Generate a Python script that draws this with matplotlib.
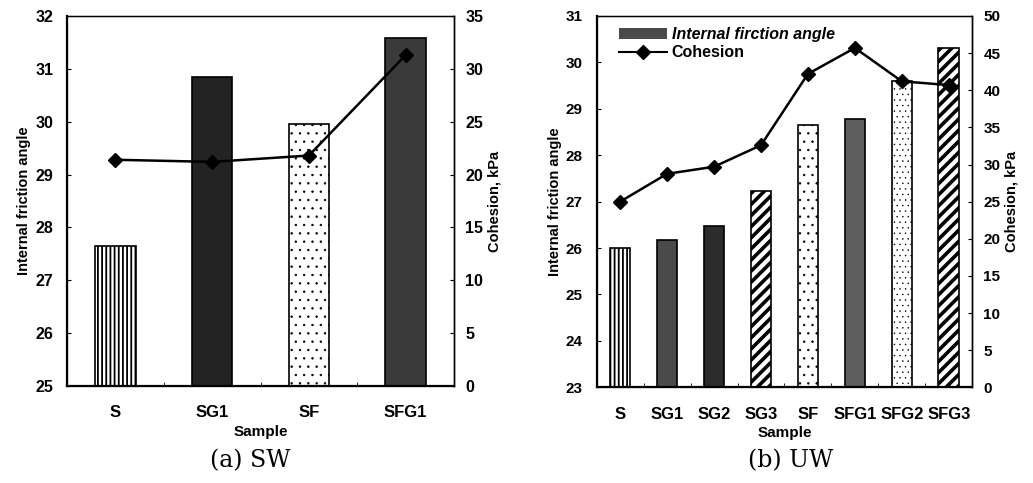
import numpy as np
import matplotlib
matplotlib.use("Agg")
import matplotlib.pyplot as plt
from matplotlib.patches import Patch
from matplotlib.lines import Line2D

plt.rcParams['font.family'] = ['Liberation Sans', 'DejaVu Sans']
plt.rcParams['hatch.linewidth'] = 1.3

# ---- data ----
samples_a = ['S', 'SG1', 'SF', 'SFG1']
phi_a = [27.64, 30.84, 29.96, 31.58]
coh_a = [21.4, 21.2, 21.8, 31.3]

samples_b = ['S', 'SG1', 'SG2', 'SG3', 'SF', 'SFG1', 'SFG2', 'SFG3']
phi_b = [26.0, 26.17, 26.48, 27.24, 28.65, 28.78, 29.6, 30.32]
coh_b = [25.0, 28.75, 29.7, 32.6, 42.2, 45.7, 41.2, 40.7]

# ---- styles ----
style = {
    'S':    dict(facecolor='white', hatch='||||', hlw=1.3),
    'SG1':  dict(facecolor='#4a4a4a', hatch=None, hlw=1.0),
    'SG2':  dict(facecolor='#2c2c2c', hatch=None, hlw=1.0),
    'SG3':  dict(facecolor='white', hatch='///', hlw=2.6),
    'SF':   dict(facecolor='white', hatch='..', hlw=0.5),
    'SFG1': dict(facecolor='#5e5e5e', hatch=None, hlw=1.0),
    'SFG2': dict(facecolor='white', hatch='...', hlw=0.3),
    'SFG3': dict(facecolor='white', hatch='///', hlw=2.6),
}
style_a = dict(style)
style_a['SG1'] = dict(facecolor='#232323', hatch=None, hlw=1.0)
style_a['SFG1'] = dict(facecolor='#3a3a3a', hatch=None, hlw=1.0)

fig = plt.figure(figsize=(10.33, 4.83), dpi=100)


def panel(rect, samples, phi, coh, sty, ylim1, yticks1, ylim2, yticks2,
          width, xfs, yfs, caption, cap_x, legend=False):
    ax = fig.add_axes(rect)
    x = np.arange(len(samples))
    for xi, s, v in zip(x, samples, phi):
        st = sty[s]
        bars = ax.bar(xi, v - ylim1[0], bottom=ylim1[0], width=width,
                      facecolor=st['facecolor'], edgecolor='black',
                      linewidth=1.2, hatch=st['hatch'], zorder=2)
        for p in bars:
            if hasattr(p, 'set_hatch_linewidth'):
                p.set_hatch_linewidth(st['hlw'])
    ax.set_xlim(-0.5, len(samples) - 0.5)
    ax.set_ylim(*ylim1)
    ax.set_yticks(yticks1)
    ax.set_xticks(x)
    ax.set_xticklabels(samples, fontsize=xfs, fontweight='bold')
    ax.set_xticks(np.arange(len(samples) + 1) - 0.5, minor=True)
    ax.tick_params(axis='x', which='major', length=0, pad=14)
    ax.tick_params(axis='x', which='minor', direction='in', length=3)
    ax.tick_params(axis='y', direction='in', length=3, pad=10,
                   labelsize=yfs)
    for lab in ax.get_yticklabels():
        lab.set_fontweight('bold')
    ax.set_ylabel('Internal friction angle', fontsize=10.5,
                  fontweight='bold', labelpad=3)
    ax.set_xlabel('Sample', fontsize=11, fontweight='bold', labelpad=3)
    for sp in ['left', 'bottom']:
        ax.spines[sp].set_linewidth(1.6)
    for sp in ['top', 'right']:
        ax.spines[sp].set_linewidth(1.0)

    ax2 = ax.twinx()
    ax2.plot(x, coh, color='black', linewidth=1.8, marker='D',
             markersize=7, markerfacecolor='black',
             markeredgecolor='black', zorder=3)
    ax2.set_ylim(*ylim2)
    ax2.set_yticks(yticks2)
    ax2.tick_params(axis='y', direction='in', length=3, pad=8,
                    labelsize=yfs)
    for lab in ax2.get_yticklabels():
        lab.set_fontweight('bold')
    ax2.set_ylabel('Cohesion, kPa', fontsize=10.5, fontweight='bold',
                   labelpad=3)
    ax2.spines['right'].set_linewidth(1.0)

    if legend:
        handles = [Patch(facecolor='#4a4a4a', edgecolor='none'),
                   Line2D([0], [0], color='black', linewidth=1.5,
                          marker='D', markersize=7)]
        leg = ax2.legend(handles, ['Internal firction angle', 'Cohesion'],
                         loc='upper left', bbox_to_anchor=(0.03, 1.0),
                         frameon=False, handlelength=3.0,
                         handletextpad=0.3, labelspacing=0.2,
                         borderaxespad=0.3,
                         prop=dict(weight='bold', size=11.5))
        leg.get_texts()[0].set_style('italic')

    fig.text(cap_x, 0.047, caption, fontsize=17, family='DejaVu Serif',
             ha='center', va='center')
    return ax, ax2


panel([0.0649, 0.2008, 0.3746, 0.7661], samples_a, phi_a, coh_a, style_a,
      (25, 32), np.arange(25, 33, 1), (0, 35), np.arange(0, 36, 5),
      0.42, 12, 11.5, '(a) SW', 0.242)

panel([0.5776, 0.1981, 0.3636, 0.7688], samples_b, phi_b, coh_b, style,
      (23, 31), np.arange(23, 32, 1), (0, 50), np.arange(0, 51, 5),
      0.44, 12, 11, '(b) UW', 0.765, legend=True)

fig.savefig('out.png', dpi=100)
